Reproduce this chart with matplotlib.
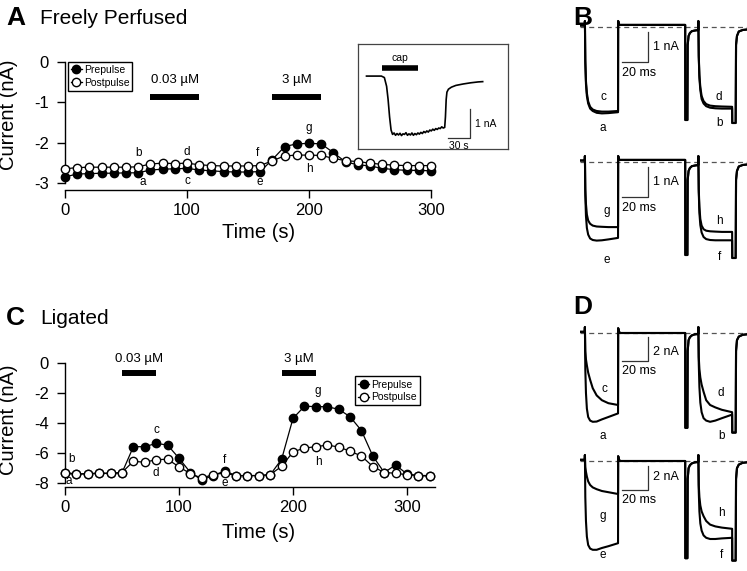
import matplotlib.pyplot as plt

plt.rcParams['font.family'] = ['Liberation Sans', 'DejaVu Sans']
W, H = 747, 571

# ---- panel A: freely perfused, current (nA) every 10 s
a_time = [0, 10, 20, 30, 40, 50, 60, 70, 80, 90, 100, 110, 120, 130, 140, 150,
          160, 170, 180, 190, 200, 210, 220, 230, 240, 250, 260, 270, 280, 290, 300]
a_pre = [-2.85, -2.78, -2.77, -2.76, -2.76, -2.75, -2.75, -2.68, -2.66, -2.65, -2.64,
         -2.68, -2.70, -2.72, -2.73, -2.73, -2.72, -2.42, -2.10, -2.03, -2.02, -2.03,
         -2.25, -2.48, -2.55, -2.58, -2.64, -2.67, -2.69, -2.69, -2.70]
a_post = [-2.65, -2.62, -2.61, -2.61, -2.61, -2.61, -2.60, -2.53, -2.51, -2.52, -2.51,
          -2.55, -2.57, -2.58, -2.58, -2.58, -2.57, -2.45, -2.33, -2.31, -2.31, -2.32,
          -2.39, -2.45, -2.47, -2.51, -2.54, -2.56, -2.57, -2.57, -2.57]
a_bars = [(70, 110, '0.03 µM'), (170, 210, '3 µM')]
a_letters = [('b', 60, -2.26), ('a', 64, -2.98), ('d', 100, -2.23), ('c', 100, -2.95),
             ('f', 158, -2.26), ('e', 160, -2.98), ('g', 200, -1.64), ('h', 200, -2.66)]

# ---- panel C: ligated
c_time = a_time + [310, 320]
c_pre = [-7.35, -7.42, -7.38, -7.36, -7.36, -7.32, -5.58, -5.58, -5.36, -5.47, -6.35,
         -7.30, -7.80, -7.50, -7.20, -7.50, -7.50, -7.50, -7.45, -6.42, -3.69, -2.89,
         -2.90, -2.92, -3.08, -3.58, -4.50, -6.20, -7.30, -6.80, -7.40, -7.50, -7.55]
c_post = [-7.30, -7.40, -7.37, -7.35, -7.35, -7.30, -6.55, -6.62, -6.44, -6.42, -6.92,
          -7.38, -7.67, -7.44, -7.33, -7.51, -7.51, -7.51, -7.44, -6.89, -5.93, -5.67,
          -5.58, -5.47, -5.60, -5.88, -6.20, -6.90, -7.30, -7.35, -7.45, -7.50, -7.50]
c_bars = [(50, 80, '0.03 µM'), (190, 220, '3 µM')]
c_letters = [('b', 6, -6.4), ('a', 3.5, -7.9), ('c', 80, -4.47), ('d', 80, -7.33),
             ('f', 140, -6.47), ('e', 140, -7.98), ('g', 222, -1.87), ('h', 222, -6.58)]

# ---- inset: capsaicin response (s, nA)
cap_t = [0, 20, 24, 27, 29, 31, 33, 35, 37, 39, 41, 43, 45, 47, 49, 51, 53, 55, 57, 59,
         61, 63, 65, 67, 69, 71, 73, 75, 77, 79, 81, 83, 85, 87, 89, 91, 93, 95, 97, 99,
         101, 103, 105, 106, 107, 108, 110, 114, 120, 130, 140, 150, 156]
cap_i = [0, 0, -0.05, -0.35, -0.8, -1.4, -1.85, -2.0, -1.95, -2.03, -1.97, -2.02, -1.96,
         -2.04, -1.98, -2.0, -1.94, -2.03, -1.98, -2.02, -1.95, -2.03, -1.97, -2.01, -1.95,
         -1.99, -1.93, -1.97, -1.9, -1.94, -1.88, -1.92, -1.85, -1.88, -1.82, -1.86, -1.8,
         -1.83, -1.78, -1.8, -1.74, -1.78, -1.76, -1.4, -0.8, -0.55, -0.45, -0.38, -0.32,
         -0.27, -0.23, -0.2, -0.19]

# ---- current sweeps (ms, nA): prepulse, interpulse, postpulse
sweep_t = [-1, 2.8, 3.0, 3.3, 3.8, 4.5, 5.5, 7, 9, 12, 16, 21, 28.4,
           28.5, 29.2, 30, 79.9,
           80.0, 81.6, 81.8, 82.5, 83.5, 85, 87, 89.9,
           90.0, 90.3, 90.8, 91.5, 92.5, 94, 96, 99, 103, 108, 115.9,
           116.0, 118.6, 118.9, 119.6, 121, 124, 128]
b_ab = [0.05, 0.05, 0.2, -1.2, -1.9, -2.3, -2.55, -2.72, -2.8, -2.86, -2.88, -2.87, -2.84,
        0.2, 0.08, 0.07, 0.07,
        -3.1, -3.1, -0.6, -0.3, -0.2, -0.14, -0.12, -0.1,
        0.2, -1.0, -1.7, -2.1, -2.4, -2.55, -2.64, -2.69, -2.71, -2.72, -2.72,
        -3.2, -3.2, -0.6, -0.3, -0.15, -0.1, -0.08]
b_cd = [0.05, 0.05, 0.2, -1.1, -1.8, -2.2, -2.48, -2.66, -2.75, -2.8, -2.82, -2.82, -2.8,
        0.2, 0.08, 0.07, 0.07,
        -3.1, -3.1, -0.6, -0.3, -0.2, -0.14, -0.12, -0.1,
        0.2, -0.95, -1.6, -2.0, -2.3, -2.47, -2.57, -2.62, -2.64, -2.65, -2.66,
        -3.2, -3.2, -0.6, -0.3, -0.15, -0.1, -0.08]
b_ef = [0.05, 0.05, 0.2, -1.1, -1.8, -2.2, -2.42, -2.55, -2.6, -2.62, -2.61, -2.58, -2.53,
        0.2, 0.08, 0.07, 0.07,
        -3.1, -3.1, -0.6, -0.3, -0.2, -0.14, -0.12, -0.1,
        0.2, -1.0, -1.7, -2.1, -2.35, -2.5, -2.57, -2.6, -2.61, -2.61, -2.61,
        -3.2, -3.2, -0.6, -0.3, -0.15, -0.1, -0.08]
b_gh = [0.05, 0.05, 0.2, -0.9, -1.4, -1.75, -1.95, -2.06, -2.12, -2.15, -2.16, -2.17, -2.17,
        0.2, 0.08, 0.07, 0.07,
        -3.1, -3.1, -0.6, -0.3, -0.2, -0.14, -0.12, -0.1,
        0.2, -0.9, -1.5, -1.9, -2.12, -2.24, -2.29, -2.31, -2.32, -2.33, -2.33,
        -3.2, -3.2, -0.6, -0.3, -0.15, -0.1, -0.08]
d_ab = [0.1, 0.1, 0.5, -3.0, -5.0, -6.3, -7.0, -7.3, -7.4, -7.38, -7.2, -7.0, -6.7,
        0.4, 0.1, 0.0, 0.0,
        -7.9, -7.9, -1.5, -0.6, -0.35, -0.2, -0.12, -0.08,
        0.5, -2.5, -4.5, -5.8, -6.6, -7.1, -7.3, -7.4, -7.3, -7.1, -6.8,
        -8.3, -8.3, -1.5, -0.6, -0.3, -0.15, -0.1]
d_cd = [0.1, 0.1, 0.5, -1.5, -2.2, -2.7, -3.3, -3.9, -4.6, -5.2, -5.6, -5.85, -6.0,
        0.4, 0.1, 0.0, 0.0,
        -7.9, -7.9, -1.5, -0.6, -0.35, -0.2, -0.12, -0.08,
        0.5, -2.0, -3.0, -3.7, -4.3, -4.9, -5.6, -6.0, -6.2, -6.4, -6.6,
        -8.3, -8.3, -1.5, -0.6, -0.3, -0.15, -0.1]
d_ef = [0.1, 0.1, 0.5, -3.0, -5.0, -6.3, -7.0, -7.3, -7.4, -7.4, -7.25, -7.1, -6.85,
        0.4, 0.1, 0.0, 0.0,
        -8.1, -8.1, -1.5, -0.6, -0.35, -0.2, -0.12, -0.08,
        0.5, -2.5, -4.2, -5.2, -5.8, -6.2, -6.4, -6.5, -6.5, -6.45, -6.4,
        -8.3, -8.3, -1.5, -0.6, -0.3, -0.15, -0.1]
d_gh = [0.1, 0.1, 0.5, -0.5, -0.9, -1.3, -1.7, -2.0, -2.2, -2.35, -2.5, -2.6, -2.75,
        0.4, 0.1, 0.0, 0.0,
        -8.1, -8.1, -1.5, -0.6, -0.35, -0.2, -0.12, -0.08,
        0.5, -2.0, -3.0, -3.7, -4.2, -4.6, -5.0, -5.3, -5.45, -5.55, -5.65,
        -8.3, -8.3, -1.5, -0.6, -0.3, -0.15, -0.1]


fig = plt.figure(figsize=(W / 100, H / 100), dpi=100)


def px_axes(x0, y0, x1, y1):
    return fig.add_axes([x0 / W, 1 - y1 / H, (x1 - x0) / W, (y1 - y0) / H])


def px_text(x, y, s, **kw):
    fig.text(x / W, 1 - y / H, s, **kw)


def time_course(ax, t, pre, post, bars, letters, yticks, xmax, bar_y, lab_y, leg_anchor):
    ax.plot(t, pre, '-o', color='k', lw=0.9, ms=6, mfc='k', mec='k', mew=1,
            clip_on=False, label='Prepulse', zorder=3)
    ax.plot(t, post, '-o', color='k', lw=0.9, ms=6, mfc='white', mec='k', mew=1,
            clip_on=False, label='Postpulse', zorder=4)
    for x0, x1, lab in bars:
        ax.plot([x0, x1], [bar_y, bar_y], color='k', lw=4.3, solid_capstyle='butt')
        ax.text((x0 + x1) / 2, lab_y, lab, ha='center', va='center', fontsize=9.5)
    for s, x, y in letters:
        ax.text(x, y, s, ha='center', va='center', fontsize=8.5)
    for side in ['top', 'right']:
        ax.spines[side].set_visible(False)
    ax.spines['left'].set_position(('data', 0))
    ax.spines['left'].set_bounds(yticks[0], yticks[-1])
    ax.spines['bottom'].set_bounds(0, xmax)
    for side in ['left', 'bottom']:
        ax.spines[side].set_linewidth(1.0)
    ax.set_yticks(yticks)
    ax.set_yticklabels([str(v) for v in yticks])
    ax.set_xticks([0, 100, 200, 300])
    ax.tick_params(length=5.5, width=1.0, labelsize=12)
    ax.tick_params(axis='y', pad=6)
    ax.tick_params(axis='x', pad=4)
    leg = ax.legend(loc='upper left', bbox_to_anchor=leg_anchor, fontsize=7.5, frameon=True,
                    fancybox=False, edgecolor='k', framealpha=1, borderpad=0.3,
                    handletextpad=0.2, handlelength=1.0, labelspacing=0.25, borderaxespad=0)
    leg.get_frame().set_linewidth(1.0)


# panel A
axA = px_axes(65 - 1.22 * 5, 62 - 40.3 * 0.1, 65 + 1.22 * 310, 62 + 40.3 * 3.18)
axA.set_xlim(-5, 310)
axA.set_ylim(-3.18, 0.1)
time_course(axA, a_time, a_pre, a_post, a_bars, a_letters, [-3, -2, -1, 0], 300,
            -0.87, -0.45, (0.024, 0.97))

# panel C
axC = px_axes(65 - 1.14 * 5, 363 - 15 * 0.3, 65 + 1.14 * 330, 363 + 15 * 8.27)
axC.set_xlim(-5, 330)
axC.set_ylim(-8.27, 0.3)
time_course(axC, c_time, c_pre, c_post, c_bars, c_letters, [-8, -6, -4, -2, 0], 325,
            -0.65, 0.27, (0.775, 0.86))

for yc in [115, 420]:
    px_text(9, yc, 'Current (nA)', rotation=90, ha='center', va='center', fontsize=14.5)
for yc in [232, 533]:
    px_text(259, yc, 'Time (s)', ha='center', va='center', fontsize=14.5)

px_text(6, 18, 'A', fontsize=19, fontweight='bold', va='center')
px_text(40, 18, 'Freely Perfused', fontsize=15, va='center')
px_text(6, 318, 'C', fontsize=19, fontweight='bold', va='center')
px_text(40, 318, 'Ligated', fontsize=15, va='center')
px_text(573, 18, 'B', fontsize=19, fontweight='bold', va='center')
px_text(573, 307, 'D', fontsize=19, fontweight='bold', va='center')

# inset
axI = px_axes(358, 44, 508, 149)
axI.plot(cap_t, cap_i, color='k', lw=1.2)
axI.plot([21, 69.5], [0.28, 0.28], color='k', lw=4.0, solid_capstyle='butt')
axI.text(45, 0.62, 'cap', ha='center', va='center', fontsize=7.5)
axI.plot([109, 139, 139], [-2.12, -2.12, -1.12], color='#333333', lw=0.9)
axI.text(146, -1.65, '1 nA', ha='left', va='center', fontsize=7.5)
axI.text(124, -2.38, '30 s', ha='center', va='center', fontsize=7.5)
axI.set_xlim(-11.4, 190)
axI.set_ylim(-2.5, 1.1)
axI.set_xticks([])
axI.set_yticks([])
for sp in axI.spines.values():
    sp.set_linewidth(0.9)
    sp.set_color('#444444')


def sweep_panel(y0, y1, ylim, sweeps, bar_top, bar_bot, amp_lab, amp_y, ms_y, letters):
    ax = px_axes(579.7, y0, 747, y1)
    ax.axhline(0, color='#555555', lw=0.9, dashes=(4, 3), zorder=1)
    for cur in sweeps:
        ax.plot(sweep_t, cur, color='k', lw=1.5, zorder=2)
    ax.plot([31.5, 51.5, 51.5], [bar_bot, bar_bot, bar_top], color='#333333', lw=0.9)
    ax.text(55, amp_y, amp_lab, ha='left', va='center', fontsize=9)
    ax.text(31.5, ms_y, '20 ms', ha='left', va='center', fontsize=9)
    for s, x, y in letters:
        ax.text(x, y, s, ha='center', va='center', fontsize=8.5)
    ax.set_xlim(-1, 127.3)
    ax.set_ylim(*ylim)
    ax.axis('off')


sweep_panel(15, 135, (-3.6, 0.4), [b_ab, b_cd], -0.17, -1.17, '1 nA', -0.67, -1.53,
            [('c', 17, -2.33), ('a', 17, -3.37), ('d', 106, -2.33), ('b', 106, -3.2)])
sweep_panel(150, 270, (-3.6, 0.4), [b_ef, b_gh], -0.17, -1.17, '1 nA', -0.67, -1.53,
            [('g', 20, -1.63), ('e', 20, -3.27), ('h', 106, -1.97), ('f', 106, -3.17)])
sweep_panel(321, 441, (-9, 1), [d_ab, d_cd], -0.33, -2.33, '2 nA', -1.56, -3.2,
            [('c', 18, -4.7), ('a', 17, -8.6), ('d', 107.5, -5.0), ('b', 107.5, -8.6)])
sweep_panel(449, 569, (-9, 1), [d_ef, d_gh], -0.4, -2.4, '2 nA', -1.3, -3.25,
            [('g', 17, -4.6), ('e', 17, -7.8), ('h', 107.5, -4.33), ('f', 107.5, -7.8)])

fig.savefig('out.png', dpi=100)
